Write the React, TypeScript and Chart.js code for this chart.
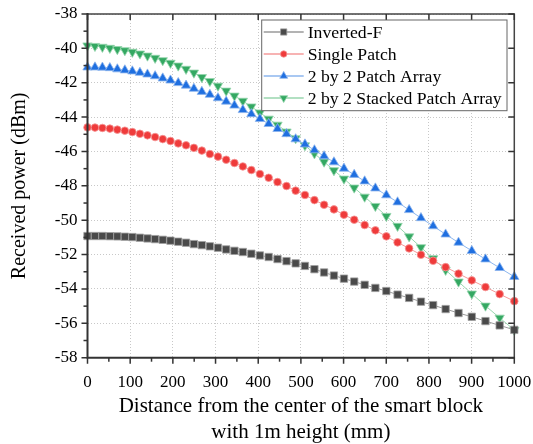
import React, { useEffect, useRef } from "react";
import { Chart, registerables } from "chart.js";
import { drawPoint } from "chart.js/helpers";

Chart.register(...registerables);

// Distance from the centre (mm)
const distances = [
  0, 17.5, 34.9, 52.4, 69.9, 87.5, 105.1, 122.8, 140.5, 158.4, 176.3, 194.4,
  212.6, 230.9, 249.3, 267.9, 286.7, 305.7, 324.9, 344.3, 364.0, 383.9, 404.0,
  424.5, 445.2, 466.3, 487.7, 509.5, 531.7, 554.3, 577.4, 600.9, 624.9, 649.4,
  674.5, 700.2, 726.5, 753.6, 781.3, 809.8, 839.1, 869.3, 900.4, 932.5, 965.7,
  1000,
];

const invertedF = [
  -50.92, -50.92, -50.92, -50.93, -50.94, -50.96, -50.98, -51.02, -51.06, -51.1,
  -51.14, -51.19, -51.25, -51.31, -51.39, -51.45, -51.52, -51.6, -51.7, -51.78,
  -51.85, -51.95, -52.05, -52.14, -52.26, -52.38, -52.51, -52.66, -52.85, -53.04,
  -53.22, -53.4, -53.57, -53.76, -53.94, -54.12, -54.33, -54.52, -54.74, -54.94,
  -55.17, -55.4, -55.62, -55.87, -56.12, -56.38,
];

const singlePatch = [
  -44.6, -44.61, -44.63, -44.67, -44.73, -44.79, -44.87, -44.97, -45.06, -45.16,
  -45.28, -45.39, -45.53, -45.64, -45.79, -45.95, -46.15, -46.3, -46.48, -46.67,
  -46.87, -47.08, -47.31, -47.53, -47.78, -48.01, -48.28, -48.53, -48.83, -49.1,
  -49.37, -49.68, -49.97, -50.28, -50.59, -50.94, -51.29, -51.64, -52.01, -52.36,
  -52.73, -53.11, -53.5, -53.89, -54.3, -54.71,
];

const patchArray = [
  -41.1, -41.1, -41.11, -41.14, -41.21, -41.27, -41.33, -41.41, -41.51, -41.61,
  -41.74, -41.86, -42.01, -42.16, -42.34, -42.52, -42.69, -42.89, -43.09, -43.32,
  -43.58, -43.82, -44.1, -44.39, -44.68, -44.98, -45.28, -45.58, -45.92, -46.27,
  -46.62, -46.99, -47.35, -47.73, -48.14, -48.54, -48.95, -49.4, -49.87, -50.34,
  -50.82, -51.3, -51.78, -52.27, -52.77, -53.29,
];

const stackedArray = [
  -39.84, -39.87, -39.92, -39.98, -40.05, -40.12, -40.21, -40.31, -40.43, -40.56,
  -40.7, -40.85, -41.01, -41.2, -41.42, -41.68, -41.91, -42.18, -42.47, -42.76,
  -43.06, -43.39, -43.74, -44.1, -44.45, -44.85, -45.24, -45.65, -46.12, -46.6,
  -47.1, -47.59, -48.11, -48.64, -49.18, -49.76, -50.34, -50.95, -51.58, -52.22,
  -52.9, -53.58, -54.28, -54.98, -55.68, -56.39,
];

const seriesLabels = [
  "Inverted-F",
  "Single Patch",
  "2 by 2 Patch Array",
  "2 by 2 Stacked Patch Array",
];

const xTitle = ["Distance from the center of the smart block", "with 1m height (mm)"];
const yTitle = "Received power (dBm)";

const FONT = "'Liberation Serif', 'Times New Roman', serif";

const styles = [
  { marker: "#4a4a4a", line: "#9a9a9a", halo: "rgba(160,160,160,0.8)", pointStyle: "rect", radius: 5.2, rotation: 0 },
  { marker: "#ef3b3b", line: "#f59a9a", halo: "rgba(245,150,150,0.8)", pointStyle: "circle", radius: 3.8, rotation: 0 },
  { marker: "#1f6fe0", line: "#8cb6ee", halo: "rgba(140,180,238,0.8)", pointStyle: "triangle", radius: 5.4, rotation: 0 },
  { marker: "#34a862", line: "#98d6ae", halo: "rgba(150,214,174,0.8)", pointStyle: "triangle", radius: 5.4, rotation: 180 },
];

const seriesValues = [invertedF, singlePatch, patchArray, stackedArray];

const framePlugin = {
  id: "frameTicks",
  afterDraw(chart: any) {
    const { ctx, chartArea } = chart;
    const { left, right, top, bottom } = chartArea;
    const xs = chart.scales.x;
    const ys = chart.scales.y;
    ctx.save();
    // frame
    ctx.strokeStyle = "#444";
    ctx.lineWidth = 1.5;
    ctx.beginPath();
    ctx.moveTo(left, top);
    ctx.lineTo(right, top);
    ctx.lineTo(right, bottom);
    ctx.stroke();
    ctx.strokeStyle = "#333";
    ctx.lineWidth = 2;
    ctx.beginPath();
    ctx.moveTo(left, top - 1);
    ctx.lineTo(left, bottom);
    ctx.lineTo(right + 0.75, bottom);
    ctx.stroke();

    // x ticks
    ctx.lineWidth = 1.5;
    const xMajor = xs.ticks.map((t: any) => t.value);
    for (let i = 0; i < xMajor.length; i++) {
      const px = xs.getPixelForValue(xMajor[i]);
      ctx.beginPath();
      ctx.moveTo(px, bottom);
      ctx.lineTo(px, bottom + 6);
      ctx.moveTo(px, top);
      ctx.lineTo(px, top + 6);
      ctx.stroke();
      if (i < xMajor.length - 1) {
        const pm = xs.getPixelForValue((xMajor[i] + xMajor[i + 1]) / 2);
        ctx.beginPath();
        ctx.moveTo(pm, bottom);
        ctx.lineTo(pm, bottom + 4);
        ctx.stroke();
      }
    }
    // y ticks
    const yMajor = ys.ticks.map((t: any) => t.value);
    for (let i = 0; i < yMajor.length; i++) {
      const py = ys.getPixelForValue(yMajor[i]);
      ctx.beginPath();
      ctx.moveTo(left, py);
      ctx.lineTo(left - 6, py);
      ctx.moveTo(right, py);
      ctx.lineTo(right - 6, py);
      ctx.stroke();
      if (i < yMajor.length - 1) {
        const pm = ys.getPixelForValue((yMajor[i] + yMajor[i + 1]) / 2);
        ctx.beginPath();
        ctx.moveTo(left, pm);
        ctx.lineTo(left - 4, pm);
        ctx.stroke();
      }
    }

    // legend
    const bx = 261.7, by = 20, bw = 245.3, bh = 90.7;
    ctx.fillStyle = "#fff";
    ctx.fillRect(bx, by, bw, bh);
    ctx.strokeStyle = "#666";
    ctx.lineWidth = 1;
    ctx.strokeRect(bx, by, bw, bh);
    chart.data.datasets.forEach((ds: any, i: number) => {
      const cy = 32 + i * 22;
      const st = styles[i];
      ctx.strokeStyle = st.line;
      ctx.lineWidth = 1.5;
      ctx.beginPath();
      ctx.moveTo(bx + 2, cy);
      ctx.lineTo(bx + 42, cy);
      ctx.stroke();
      ctx.fillStyle = st.marker;
      ctx.strokeStyle = st.halo;
      ctx.lineWidth = 1;
      drawPoint(
        ctx,
        {
          pointStyle: st.pointStyle,
          radius: st.radius * 0.85,
          rotation: st.rotation,
          borderWidth: 1,
        } as any,
        bx + 22,
        cy
      );
      ctx.fillStyle = "#000";
      ctx.font = `17.7px ${FONT}`;
      ctx.textAlign = "left";
      ctx.textBaseline = "middle";
      ctx.fillText(ds.label, bx + 46, cy + 1);
    });
    ctx.restore();
  },
};

export default function App() {
  const ref = useRef<HTMLCanvasElement | null>(null);
  useEffect(() => {
    if (!ref.current) return;
    const datasets = seriesValues.map((vals, i) => ({
      label: seriesLabels[i],
      data: distances.map((d, j) => ({ x: d, y: vals[j] })),
      borderColor: styles[i].line,
      borderWidth: 1,
      backgroundColor: styles[i].marker,
      pointBackgroundColor: styles[i].marker,
      pointBorderColor: styles[i].halo,
      pointBorderWidth: 1,
      pointStyle: styles[i].pointStyle,
      pointRotation: styles[i].rotation,
      pointRadius: styles[i].radius,
      tension: 0,
      clip: false as any,
    }));
    const chart = new Chart(ref.current, {
      type: "line",
      data: { datasets },
      options: {
        animation: false,
        responsive: false,
        devicePixelRatio: 1,
        layout: { padding: { left: 0, right: 18.7, top: 14, bottom: 0 } },
        plugins: { legend: { display: false }, tooltip: { enabled: false } },
        scales: {
          x: {
            type: "linear",
            min: 0,
            max: 1000,
            afterFit: (s: any) => {
              s.height = 86.3;
              s.paddingLeft = 0;
              s.paddingRight = 0;
            },
            ticks: {
              stepSize: 100,
              padding: 15,
              color: "#000",
              font: { family: FONT, size: 17 },
              maxRotation: 0,
              callback: (v: any) => String(v),
            },
            grid: { color: "#c8c8c8", lineWidth: 1, drawTicks: false },
            border: { display: false, dash: [1, 2] },
            title: {
              display: true,
              text: xTitle,
              color: "#000",
              font: { family: FONT, size: 21, lineHeight: 1.25 },
              padding: { top: 0, bottom: -1.5 },
            },
          },
          y: {
            type: "linear",
            min: -58,
            max: -38,
            afterFit: (s: any) => {
              s.width = 87.5;
              s.paddingTop = 0;
              s.paddingBottom = 0;
            },
            ticks: {
              stepSize: 2,
              padding: 10,
              color: "#000",
              font: { family: FONT, size: 17 },
              callback: (v: any) => String(v),
            },
            grid: { color: "#c8c8c8", lineWidth: 1, drawTicks: false },
            border: { display: false, dash: [1, 2] },
            title: {
              display: true,
              text: yTitle,
              color: "#000",
              font: { family: FONT, size: 20, lineHeight: 1.2 },
              padding: { top: 8, bottom: 0 },
            },
          },
        },
      },
      plugins: [framePlugin],
    });
    return () => chart.destroy();
  }, []);
  return (
    <div style={{ position: "absolute", left: 0, top: 0, width: 533, height: 444, background: "#fff" }}>
      <canvas ref={ref} width={533} height={444} style={{ display: "block" }} />
    </div>
  );
}
